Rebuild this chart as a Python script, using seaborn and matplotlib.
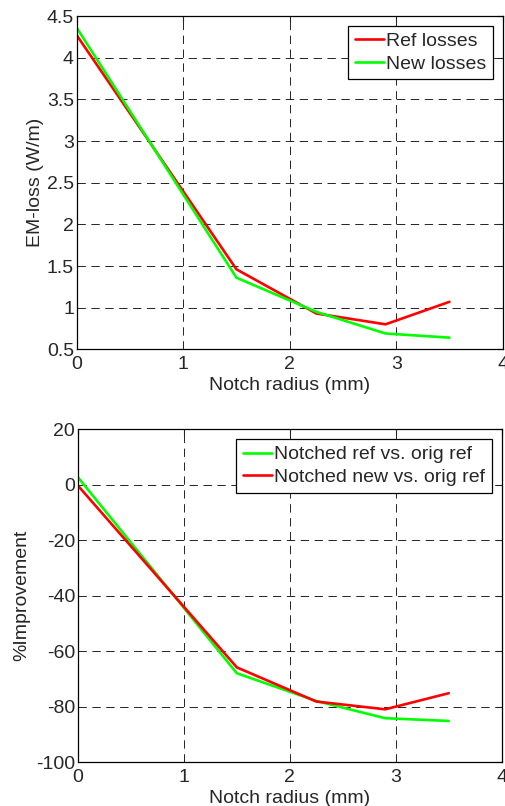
import numpy as np
import matplotlib
matplotlib.use("Agg")
import matplotlib.pyplot as plt
import seaborn as sns
import pandas as pd
from matplotlib.ticker import FuncFormatter

# notch radius (mm)
radius = [0.0, 1.5, 2.25, 2.9, 3.5]

# EM-loss (W/m)
ref_losses = [4.27, 1.46, 0.93, 0.80, 1.07]
new_losses = [4.36, 1.36, 0.95, 0.69, 0.64]

# % improvement
notched_ref = [2.7, -67.9, -77.9, -84.1, -85.1]
notched_new = [-0.3, -65.8, -78.1, -80.9, -75.1]

sns.set_style("white")
plt.rcParams['font.family'] = ['Liberation Sans', 'DejaVu Sans']
plt.rc('font', size=14)
plt.rc('lines', scale_dashes=False)

fig = plt.figure(figsize=[5.06, 8.06], dpi=100)
ax1 = fig.add_axes([0.1516, 0.5666, 0.8419, 0.4135])
ax2 = fig.add_axes([0.1541, 0.0542, 0.8374, 0.4132])

top = pd.concat([
    pd.DataFrame({"r": radius, "v": ref_losses, "s": "Ref losses"}),
    pd.DataFrame({"r": radius, "v": new_losses, "s": "New losses"}),
])
bot = pd.concat([
    pd.DataFrame({"r": radius, "v": notched_ref, "s": "Notched ref vs. orig ref"}),
    pd.DataFrame({"r": radius, "v": notched_new, "s": "Notched new vs. orig ref"}),
])

sns.lineplot(top, x="r", y="v", hue="s", ax=ax1, sort=False,
             palette=["#ff0000", "#00ff00"], linewidth=1.9)
sns.lineplot(bot, x="r", y="v", hue="s", ax=ax2, sort=False,
             palette=["#00ff00", "#ff0000"], linewidth=1.9)

fmt = FuncFormatter(lambda v, p: "%g" % v)
for ax in (ax1, ax2):
    ax.set_xlim(0, 4)
    ax.set_xticks([0, 1, 2, 3, 4])
    ax.xaxis.set_major_formatter(fmt)
    ax.yaxis.set_major_formatter(fmt)
    ax.grid(True, color='black', linestyle=(0, (6, 4)), linewidth=0.6)
    ax.tick_params(direction='in', top=True, right=True, length=4,
                   width=0.8, labelsize=14, pad=2)
    ax.tick_params(axis='x', pad=5)
    for sp in ax.spines.values():
        sp.set_color('black')
        sp.set_linewidth(0.9)
    ax.set_xlabel("Notch radius (mm)", labelpad=3)
    ax.legend(loc='upper right', fancybox=False, edgecolor='black',
              framealpha=1, borderaxespad=0.5, handlelength=1.5,
              handletextpad=0.1, labelspacing=0.25, fontsize=14,
              borderpad=0.35)
    ax.get_legend().get_frame().set_linewidth(0.9)

ax1.set_ylim(0.5, 4.5)
ax1.set_yticks(np.arange(0.5, 4.51, 0.5))
ax1.set_ylabel("EM-loss (W/m)", labelpad=2)

ax2.set_ylim(-100, 20)
ax2.set_yticks(np.arange(-100, 21, 20))
ax2.set_ylabel("%Improvement", labelpad=4)

fig.savefig("out.png", dpi=100)
